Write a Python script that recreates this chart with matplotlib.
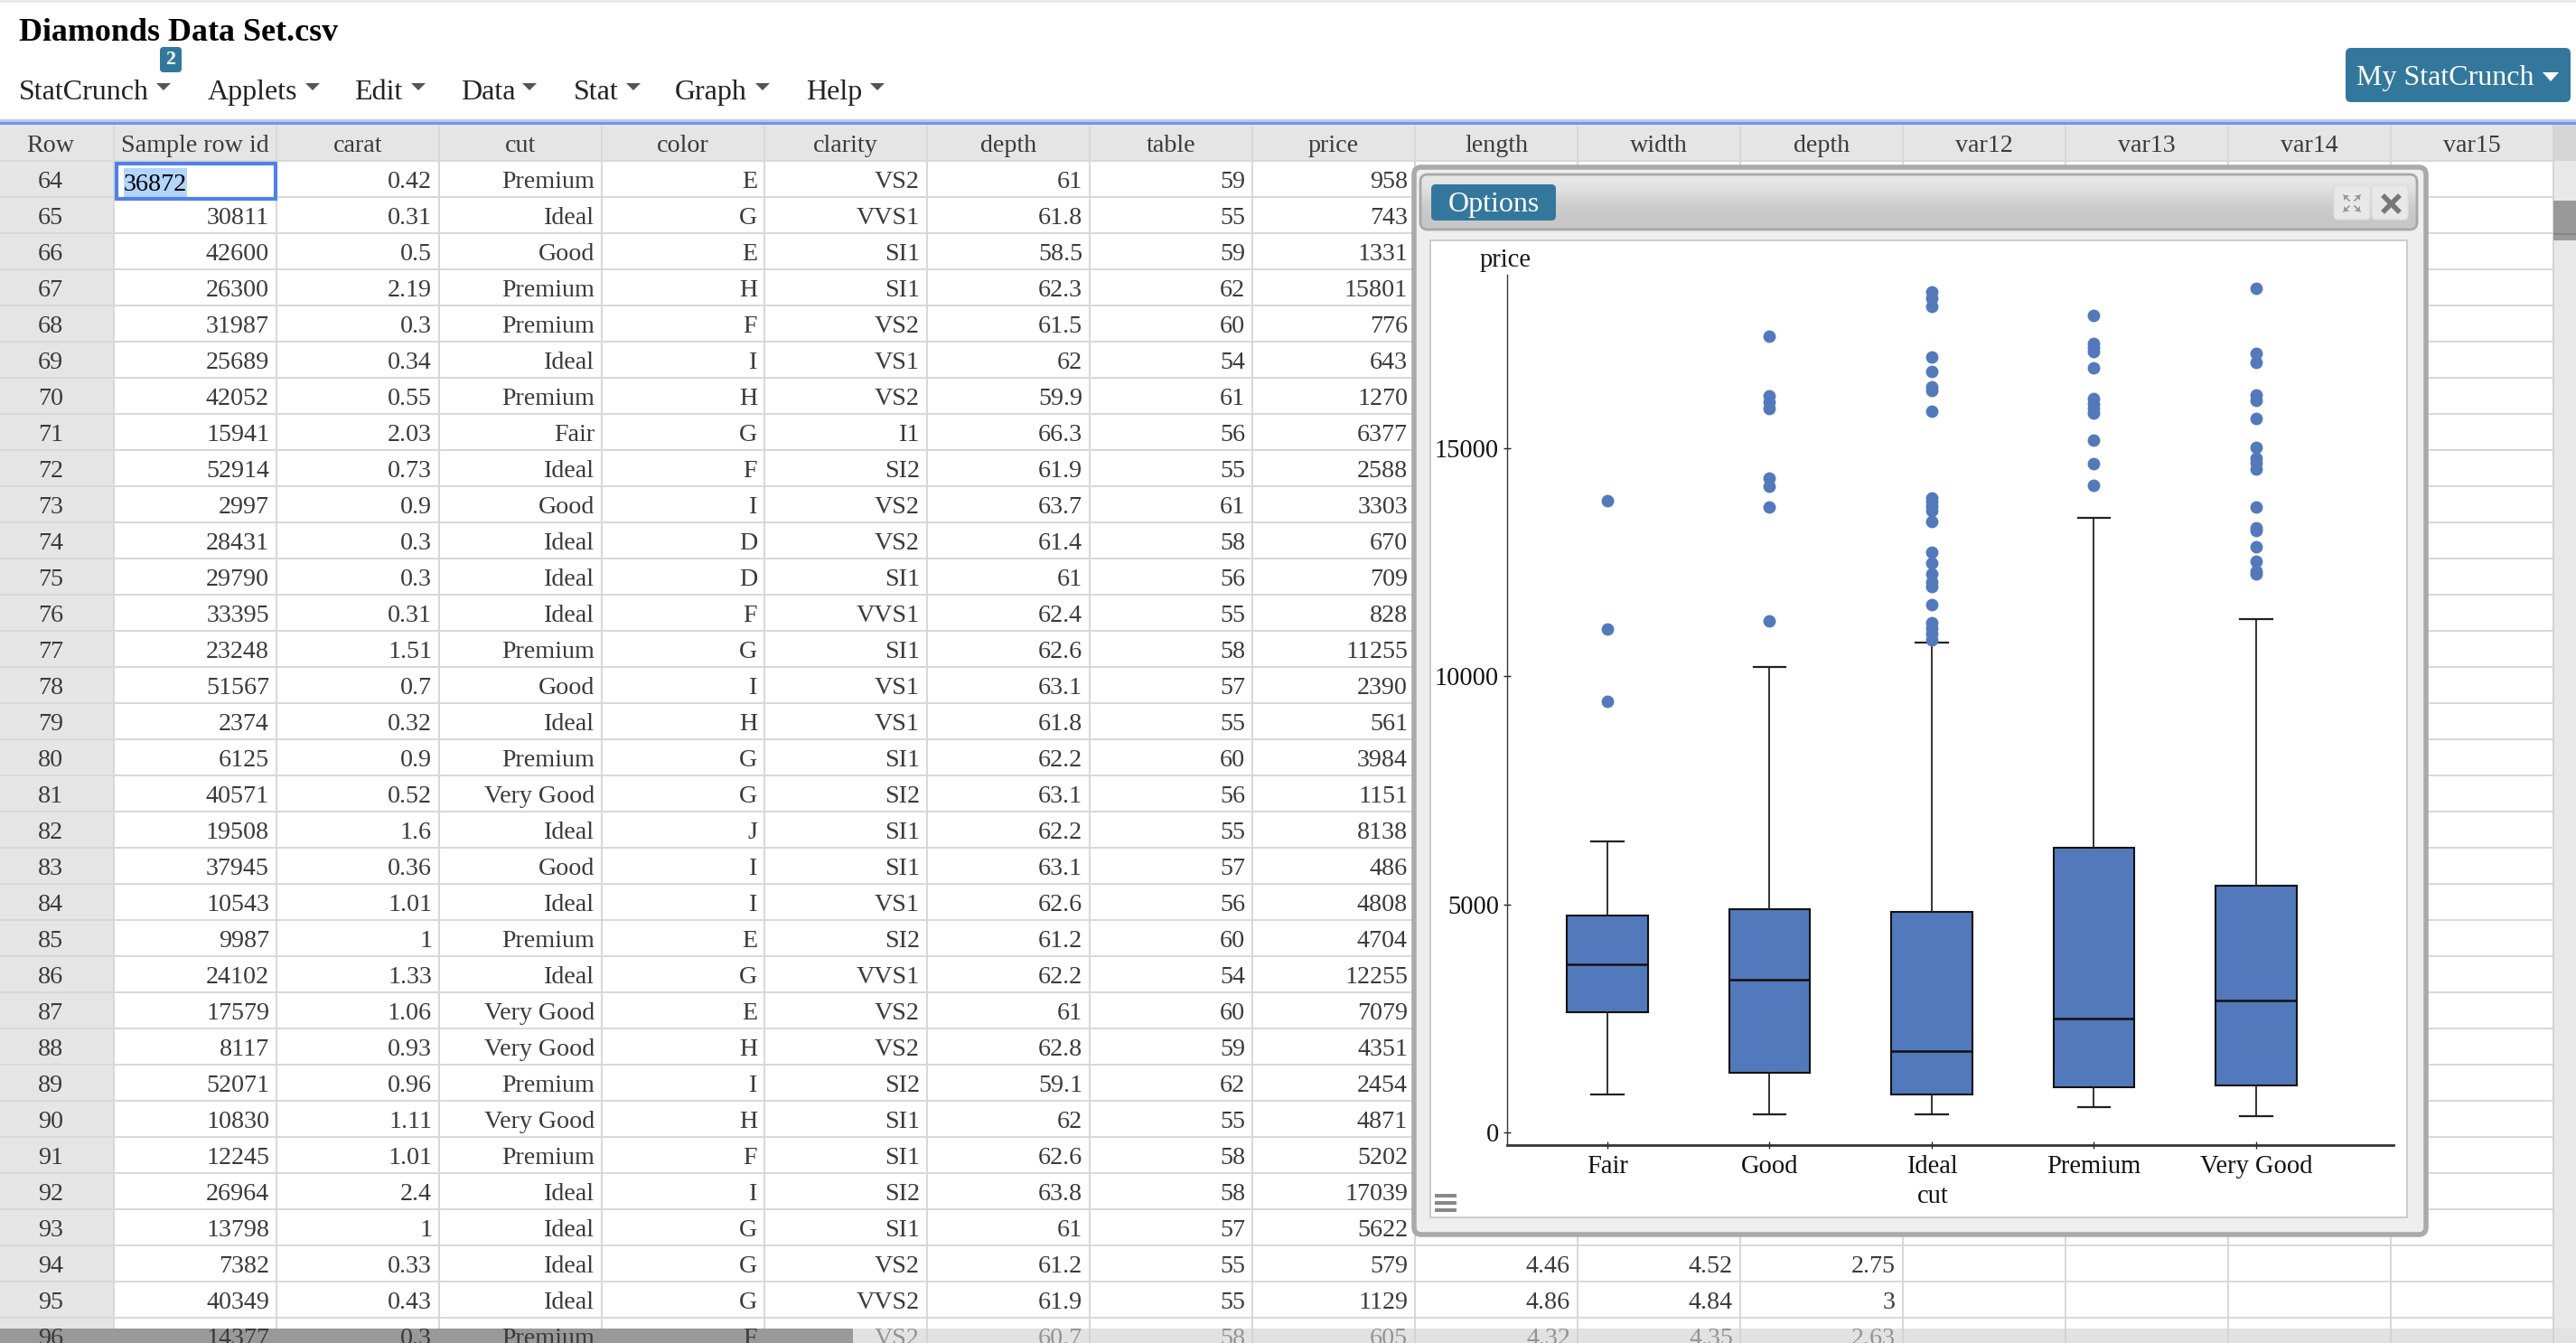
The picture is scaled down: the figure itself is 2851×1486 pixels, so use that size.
import numpy as np
import matplotlib
matplotlib.use('Agg')
import matplotlib.pyplot as plt
from matplotlib.patches import Rectangle, FancyBboxPatch, Polygon

plt.rcParams['font.family'] = ['Liberation Serif', 'DejaVu Serif']

W, H = 2851, 1486

# Spreadsheet data
headers = ['Row', 'Sample row id', 'carat', 'cut', 'color', 'clarity', 'depth', 'table', 'price',
           'length', 'width', 'depth', 'var12', 'var13', 'var14', 'var15']
row_no = list(range(64, 97))
sample_id = [36872, 30811, 42600, 26300, 31987, 25689, 42052, 15941, 52914, 2997, 28431,
             29790, 33395, 23248, 51567, 2374, 6125, 40571, 19508, 37945, 10543, 9987,
             24102, 17579, 8117, 52071, 10830, 12245, 26964, 13798, 7382, 40349, 14377]
carat = ['0.42', '0.31', '0.5', '2.19', '0.3', '0.34', '0.55', '2.03', '0.73', '0.9', '0.3',
         '0.3', '0.31', '1.51', '0.7', '0.32', '0.9', '0.52', '1.6', '0.36', '1.01', '1',
         '1.33', '1.06', '0.93', '0.96', '1.11', '1.01', '2.4', '1', '0.33', '0.43', '0.3']
cut = ['Premium', 'Ideal', 'Good', 'Premium', 'Premium', 'Ideal', 'Premium', 'Fair', 'Ideal',
       'Good', 'Ideal', 'Ideal', 'Ideal', 'Premium', 'Good', 'Ideal', 'Premium', 'Very Good',
       'Ideal', 'Good', 'Ideal', 'Premium', 'Ideal', 'Very Good', 'Very Good', 'Premium',
       'Very Good', 'Premium', 'Ideal', 'Ideal', 'Ideal', 'Ideal', 'Premium']
color = list('EGEHFIHGFIDDFGIHGGJIIEGEHIHFIGGGF')
clarity = ['VS2', 'VVS1', 'SI1', 'SI1', 'VS2', 'VS1', 'VS2', 'I1', 'SI2', 'VS2', 'VS2', 'SI1',
           'VVS1', 'SI1', 'VS1', 'VS1', 'SI1', 'SI2', 'SI1', 'SI1', 'VS1', 'SI2', 'VVS1', 'VS2',
           'VS2', 'SI2', 'SI1', 'SI1', 'SI2', 'SI1', 'VS2', 'VVS2', 'VS2']
depth = ['61', '61.8', '58.5', '62.3', '61.5', '62', '59.9', '66.3', '61.9', '63.7', '61.4',
         '61', '62.4', '62.6', '63.1', '61.8', '62.2', '63.1', '62.2', '63.1', '62.6', '61.2',
         '62.2', '61', '62.8', '59.1', '62', '62.6', '63.8', '61', '61.2', '61.9', '60.7']
table = ['59', '55', '59', '62', '60', '54', '61', '56', '55', '61', '58', '56', '55', '58',
         '57', '55', '60', '56', '55', '57', '56', '60', '54', '60', '59', '62', '55', '58',
         '58', '57', '55', '55', '58']
price = [958, 743, 1331, 15801, 776, 643, 1270, 6377, 2588, 3303, 670, 709, 828, 11255, 2390,
         561, 3984, 1151, 8138, 486, 4808, 4704, 12255, 7079, 4351, 2454, 4871, 5202, 17039,
         5622, 579, 1129, 605]
# only the last rows of these show below the dialog
length_tail = ['4.46', '4.86', '4.32']
width_tail = ['4.52', '4.84', '4.35']
depth2_tail = ['2.75', '3', '2.63']

menu_items = ['StatCrunch', 'Applets', 'Edit', 'Data', 'Stat', 'Graph', 'Help']

# Boxplot data
categories = ['Fair', 'Good', 'Ideal', 'Premium', 'Very Good']
whislo = [829, 396, 396, 555, 357]
q1 = [2632, 1308, 832, 991, 1030]
med = [3678, 3354, 1783, 2488, 2885]
q3 = [4760, 4904, 4832, 6239, 5409]
whishi = [6383, 10205, 10739, 13473, 11254]
fliers = [
    [13848, 11035, 9448],
    [17454, 16156, 16011, 15867, 14352, 14172, 13703, 11215],
    [18434, 18288, 18103, 17000, 16683, 16340, 16267, 15811, 13916, 13830, 13731, 13632, 13401,
     12727, 12489, 12245, 12066, 11961, 11571, 11168, 11056, 10944, 10792],
    [17912, 17298, 17198, 17113, 16763, 16089, 15977, 15877, 15778, 15171, 14662, 14187],
    [18506, 17086, 16888, 16175, 16043, 15653, 15019, 14788, 14675, 14543, 13711, 13255, 13189,
     12839, 12522, 12311, 12245],
]

BLUE = '#33789c'
GRID = '#d8d8d8'
HEAD = '#e5e5e5'
TXT = '#3a3a3a'

fig = plt.figure(figsize=(W / 100, H / 100), dpi=100, facecolor='white')
bg = fig.add_axes([0, 0, 1, 1])
bg.set_xlim(0, W)
bg.set_ylim(H, 0)
bg.axis('off')


def rect(x0, y0, x1, y1, fc, z=1, **kw):
    bg.add_patch(Rectangle((x0, y0), x1 - x0, y1 - y0, fc=fc, ec='none', zorder=z, **kw))


def rbox(x0, y0, x1, y1, fc, ec='none', lw=0, r=6, z=1):
    p = FancyBboxPatch((x0 + r, y0 + r), x1 - x0 - 2 * r, y1 - y0 - 2 * r,
                       boxstyle='round,pad=%d,rounding_size=%d' % (r, r),
                       fc=fc, ec=ec, lw=lw, zorder=z)
    bg.add_patch(p)
    return p


def caret(x0, x1, y0, y1, c='#555555', z=3):
    bg.add_patch(Polygon([(x0, y0), (x1, y0), ((x0 + x1) / 2, y1)], fc=c, ec='none', zorder=z))


def px(n):
    return n * 0.72


# Page header
rect(0, 0, W, 3, '#e8e8e8')
bg.text(21, 45, 'Diamonds Data Set.csv', fontsize=px(36), fontweight='bold', color='black', va='baseline')
menu_x = [21, 230, 392, 510, 635, 747, 892]
caret_x = [173, 338, 455, 578, 693, 836, 963]
for name, mx, cx in zip(menu_items, menu_x, caret_x):
    bg.text(mx, 110, name, fontsize=px(32), color='#222222', va='baseline')
    caret(cx, cx + 16, 92, 100)
rbox(177, 52, 201, 80, BLUE, r=4, z=3)
bg.text(189, 66, '2', fontsize=px(22), fontweight='bold', color='white', ha='center', va='center', zorder=4)
rbox(2596, 53, 2845, 113, BLUE, r=6, z=3)
bg.text(2608, 94, 'My StatCrunch', fontsize=px(32), color='white', va='baseline', zorder=4)
caret(2814, 2832, 80, 90, c='white', z=4)

# Spreadsheet grid
rect(0, 132, W, 135, '#b4c8ef')
rect(0, 135, W, 138, '#7396df')
col_edges = [0] + [126 + 180 * k for k in range(16)]
rect(0, 138, W, 178, HEAD)
rect(0, 178, 126, H, HEAD)
for k in range(0, 33):
    rect(0, 177 + 40 * k, 2826, 179 + 40 * k, GRID, z=1.2)
for xe in col_edges[1:]:
    rect(xe - 1, 138, xe + 1, H, GRID, z=1.2)
for i, h in enumerate(headers):
    hx = 56 if i == 0 else (col_edges[i] + col_edges[i + 1]) / 2
    bg.text(hx, 168, h, fontsize=px(28), color=TXT, ha='center', va='baseline', zorder=2)

cols = [sample_id, carat, cut, color, clarity, depth, table, price]
for r, rn in enumerate(row_no):
    base = 178 + 40 * r + 30
    bg.text(56, base, str(rn), fontsize=px(28), color=TXT, ha='center', va='baseline', zorder=2)
    for c, vals in enumerate(cols):
        if r == 0 and c == 0:
            continue
        bg.text(col_edges[c + 2] - 8, base, str(vals[r]), fontsize=px(28), color=TXT,
                ha='right', va='baseline', zorder=2)
for j in range(3):
    base = 178 + 40 * (30 + j) + 30
    for c, vals in zip([9, 10, 11], [length_tail, width_tail, depth2_tail]):
        bg.text(col_edges[c + 1] - 8, base, vals[j], fontsize=px(28), color=TXT,
                ha='right', va='baseline', zorder=2)

# selected cell
rect(127, 179, 307, 222, 'white', z=2)
rect(137, 186, 207, 218, '#b3d4fd', z=2.1)
bg.add_patch(Rectangle((129, 181), 176, 39, fc='none', ec='#5080e8', lw=3, zorder=2.2))
bg.text(137, 211, str(sample_id[0]), fontsize=px(28), color='black', va='baseline', zorder=2.3)

# Scroll bars
rect(2826, 138, W, 178, '#d6d6d6', z=3)
rect(2826, 178, W, 1470, '#e8e8e8', z=3)
rect(2825, 138, 2827, 1470, '#d4d4d4', z=3.05)
rect(2826, 222, W, 266, '#999999', z=3.1)
rect(2826, 258, W, 260, '#858585', z=3.2)
rect(944, 1470, W, H, '#d0d0d0', z=3, alpha=0.6)
rect(0, 1470, 944, H, '#999999', z=1.5)

# Dialog
rbox(1565, 185, 2685, 1366, '#eeeeee', ec='#aaaaaa', lw=4, r=8, z=5)
bar = rbox(1572, 193, 2675, 254, 'none', ec='#a8a8a8', lw=2, r=8, z=5.3)
grad = np.array([[0.90], [0.88], [0.84], [0.80], [0.78], [0.78]])
im = bg.imshow(grad, cmap='gray', vmin=0, vmax=1, extent=(1572, 2675, 254, 193), aspect='auto',
               zorder=5.2, interpolation='bilinear')
im.set_clip_path(bar)
bg.set_xlim(0, W)
bg.set_ylim(H, 0)
rbox(1584, 204, 1722, 244, BLUE, r=5, z=5.4)
bg.text(1653, 234, 'Options', fontsize=px(32), color='white', ha='center', va='baseline', zorder=5.5)
rbox(2583, 205, 2623, 243, '#e8e8e8', ec='#dddddd', lw=1, r=5, z=5.4)
rbox(2625, 205, 2665, 243, '#e8e8e8', ec='#dddddd', lw=1, r=5, z=5.4)
bg.plot([2639, 2654], [218, 233], color='#777777', lw=4, zorder=5.5)
bg.plot([2639, 2654], [233, 218], color='#777777', lw=4, zorder=5.5)
for sx, sy in [(-1, -1), (1, -1), (-1, 1), (1, 1)]:
    ex, ey = 2603 + 9 * sx, 225 + 9 * sy
    bg.plot([2603 + 3 * sx, ex], [225 + 3 * sy, ey], color='#999999', lw=1.2, zorder=5.5)
    bg.add_patch(Polygon([(ex, ey), (ex - 6 * sx, ey), (ex, ey - 6 * sy)], fc='#999999', ec='none', zorder=5.5))
rect(1582, 265, 2665, 1348, '#cccccc', z=5.6)
rect(1584, 267, 2663, 1346, 'white', z=5.7)
for hy in [1323, 1331, 1339]:
    rect(1588, hy - 2, 1612, hy + 2, '#888888', z=5.8)

# Boxplot, on its own axes above the page
left, right, top, bottom = 1668, 2649, 304, 1267
ax = fig.add_axes([left / W, 1 - bottom / H, (right - left) / W, (bottom - top) / H], zorder=10)
ax.patch.set_alpha(0)

stats = []
for i, name in enumerate(categories):
    stats.append({'label': name, 'whislo': whislo[i], 'q1': q1[i], 'med': med[i],
                  'q3': q3[i], 'whishi': whishi[i], 'fliers': fliers[i]})
ax.bxp(stats, positions=range(1, 6), widths=0.5, capwidths=0.2, patch_artist=True,
       boxprops=dict(facecolor='#5279bb', edgecolor='#111111', linewidth=1.5),
       medianprops=dict(color='#111111', linewidth=1.8),
       whiskerprops=dict(color='#222222', linewidth=1.3),
       capprops=dict(color='#222222', linewidth=1.6),
       flierprops=dict(marker='o', markerfacecolor='#5479bb', markeredgecolor='none', markersize=10))
ax.set_xlim(0.3816, 5.847)
ax.set_ylim(-277, 18803)
ax.set_yticks([0, 5000, 10000, 15000])
ax.spines['top'].set_visible(False)
ax.spines['right'].set_visible(False)
ax.spines['left'].set_linewidth(1.0)
ax.spines['left'].set_color('#333333')
ax.spines['bottom'].set_linewidth(2)
ax.spines['bottom'].set_color('#333333')
ax.tick_params(axis='both', direction='inout', length=6, width=1, color='#222222',
               labelcolor='#111111', labelsize=px(28.5))
ax.tick_params(axis='x', pad=5)
ax.tick_params(axis='y', pad=3.5)
ax.set_xlabel('cut', fontsize=px(28.5), color='#111111')
ax.xaxis.set_label_coords(0.48, -0.059)
ax.xaxis.label.set_va('center')
ax.set_ylabel('price', rotation=0, fontsize=px(28.5), color='#111111', ha='center', va='center')
ax.yaxis.set_label_coords(-0.002, 1.017)

fig.savefig('out.png', dpi=100)
